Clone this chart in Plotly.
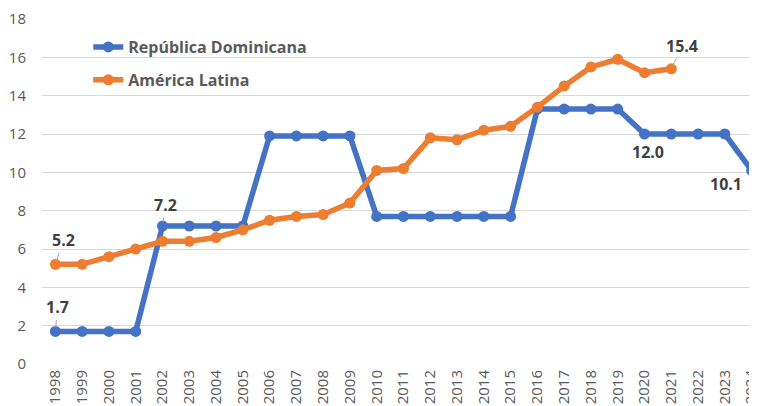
import plotly.graph_objects as go

years = list(range(1998, 2025))
rep_dom = [1.7, 1.7, 1.7, 1.7, 7.2, 7.2, 7.2, 7.2, 11.9, 11.9, 11.9, 11.9,
           7.7, 7.7, 7.7, 7.7, 7.7, 7.7, 13.3, 13.3, 13.3, 13.3, 12.0, 12.0,
           12.0, 12.0, 10.1]
am_lat_years = list(range(1998, 2022))
am_lat = [5.2, 5.2, 5.6, 6.0, 6.4, 6.4, 6.6, 7.0, 7.5, 7.7, 7.8, 8.4,
          10.1, 10.2, 11.8, 11.7, 12.2, 12.4, 13.4, 14.5, 15.5, 15.9, 15.2, 15.4]

blue = '#4472C4'
orange = '#ED7D31'
text_gray = '#595959'
label_dark = '#404040'

fig = go.Figure()
fig.add_trace(go.Scatter(x=years, y=rep_dom, mode='lines+markers',
                         name='<b>República Dominicana</b>', legendgroup='rd',
                         line=dict(color=blue, width=5.5),
                         marker=dict(color=blue, size=11)))
fig.add_trace(go.Scatter(x=am_lat_years, y=am_lat, mode='lines+markers',
                         name='<b>América Latina</b>', legendgroup='al',
                         line=dict(color=orange, width=5.5),
                         marker=dict(color=orange, size=11)))

# data labels with short leader lines
labels = [
    (1998, 1.7, 2, -24, True),
    (1998, 5.2, 8, -24, True),
    (2002, 7.2, 3, -21, True),
    (2021, 15.4, 11, -23, True),
    (2020, 12.0, 3, 18, False),
    (2024, 10.1, -26, 14, False),
]
for x, y, ax, ay, arrow in labels:
    if arrow:
        fig.add_annotation(x=x, y=y, text=f'<b>{y:.1f}</b>', showarrow=True,
                           ax=ax, ay=ay, arrowhead=0, arrowwidth=1,
                           arrowcolor='#a6a6a6', standoff=4,
                           font=dict(size=16, color=label_dark, family='Open Sans'))
    else:
        fig.add_annotation(x=x, y=y, text=f'<b>{y:.1f}</b>', showarrow=False,
                           xshift=ax, yshift=-ay,
                           font=dict(size=16, color=label_dark, family='Open Sans'))

# page body has an 8px margin, so the margins are reduced to compensate
fig.update_layout(
    width=757, height=406,
    plot_bgcolor='white', paper_bgcolor='white',
    margin=dict(l=34, r=0, t=11, b=50),
    font=dict(family='Open Sans', color=text_gray, size=13),
    legend=dict(x=0.064, y=0.968, xanchor='left', yanchor='top',
                bgcolor='rgba(0,0,0,0)', tracegroupgap=9,
                font=dict(size=16, color=text_gray, family='Open Sans')),
    showlegend=True,
)
fig.update_xaxes(range=[1997.5, 2024.5], tickvals=years, tickangle=-90,
                 showgrid=False, zeroline=False, showline=False, automargin=False,
                 tickfont=dict(size=15, color=text_gray), ticklabelstandoff=2)
fig.update_yaxes(range=[0, 18], dtick=2, showgrid=True, gridcolor='#d9d9d9',
                 gridwidth=1, zeroline=False, showline=False, automargin=False,
                 tickfont=dict(size=15, color=text_gray), ticklabelstandoff=15)

fig.write_html("out.html")
